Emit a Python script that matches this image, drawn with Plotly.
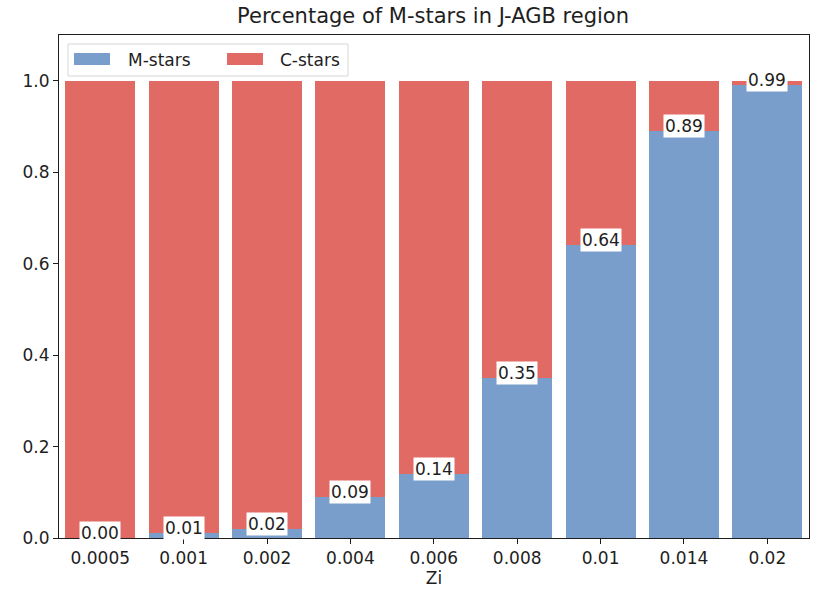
import plotly.graph_objects as go

# Metallicity bins and fraction of M-type stars in each
zi_labels = ["0.0005", "0.001", "0.002", "0.004", "0.006", "0.008", "0.01", "0.014", "0.02"]
m_frac = [0.00, 0.01, 0.02, 0.09, 0.14, 0.35, 0.64, 0.89, 0.99]
c_frac = [round(1 - v, 2) for v in m_frac]
series_names = ["M-stars", "C-stars"]

blue = "rgb(122,158,203)"
red = "rgb(225,106,101)"
ink = "rgb(30,30,30)"
font_family = "DejaVu Sans"

W, H = 814, 595
ML, MR, MT, MB = 59, 5, 35, 57
PW, PH = W - ML - MR, H - MT - MB


def px_x(p):
    return (p - ML) / PW


def px_y(p):
    return (H - MB - p) / PH


x_pos = list(range(len(zi_labels)))

fig = go.Figure()
fig.add_trace(go.Bar(x=x_pos, y=m_frac, name=series_names[0],
                     marker=dict(color=blue, line_width=0), width=0.84, showlegend=False))
fig.add_trace(go.Bar(x=x_pos, y=c_frac, name=series_names[1],
                     marker=dict(color=red, line_width=0), width=0.84, showlegend=False))

# Value labels at the top of each M-stars segment
for xi, v in zip(x_pos, m_frac):
    fig.add_annotation(x=xi, y=v, text=f"{v:.2f}", showarrow=False,
                       yanchor="middle", yshift=5,
                       font=dict(family=font_family, size=17, color=ink),
                       bgcolor="white", borderpad=1)

# Legend box with wide colour patches
shapes = [dict(type="rect", xref="paper", yref="paper",
               x0=px_x(68), x1=px_x(348), y0=px_y(76), y1=px_y(44),
               fillcolor="rgba(255,255,255,0.85)", line=dict(color="rgb(215,215,215)", width=1))]
for name, col, sx, tx in [(series_names[0], blue, 74, 126), (series_names[1], red, 227, 278)]:
    shapes.append(dict(type="rect", xref="paper", yref="paper",
                       x0=px_x(sx), x1=px_x(sx + 36), y0=px_y(65), y1=px_y(53),
                       fillcolor=col, line=dict(width=0)))
    fig.add_annotation(xref="paper", yref="paper", x=px_x(tx), y=px_y(60),
                       text=name, showarrow=False, xanchor="left", yanchor="middle",
                       font=dict(family=font_family, size=17, color=ink))

fig.update_layout(
    barmode="stack",
    bargap=0,
    width=W, height=H,
    margin=dict(l=ML, r=MR, t=MT, b=MB),
    paper_bgcolor="white", plot_bgcolor="white",
    font=dict(family=font_family, size=17, color=ink),
    title=dict(text="Percentage of M-stars in J-AGB region", x=0.532, xanchor="center",
               y=0.973, yanchor="middle", font=dict(size=21, family=font_family)),
    shapes=shapes,
    xaxis=dict(
        tickmode="array", tickvals=x_pos, ticktext=zi_labels,
        range=[-0.495, 8.5],
        showgrid=False, zeroline=False,
        showline=True, linecolor=ink, linewidth=1, mirror=True,
        ticks="outside", ticklen=5, tickcolor=ink,
        title=dict(text="Zi", font=dict(size=17), standoff=4),
    ),
    yaxis=dict(
        range=[0, 1.1],
        tickvals=[0, 0.2, 0.4, 0.6, 0.8, 1.0],
        ticktext=["0.0", "0.2", "0.4", "0.6", "0.8", "1.0"],
        showgrid=False, zeroline=False,
        showline=True, linecolor=ink, linewidth=1, mirror=True,
        ticks="outside", ticklen=5, tickcolor=ink,
    ),
)

fig.write_html("out.html")
